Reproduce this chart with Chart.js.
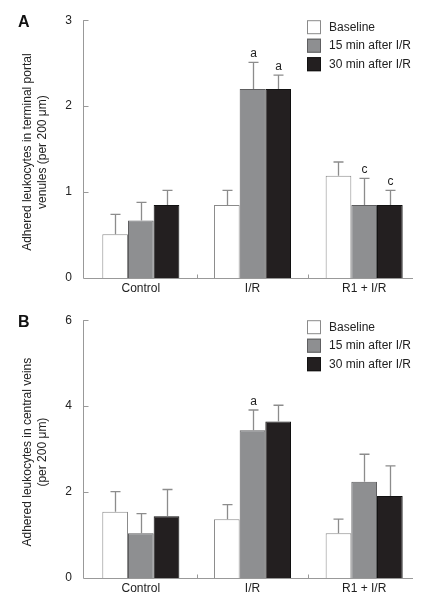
<!DOCTYPE html>
<html>
<head>
<meta charset="utf-8">
<script src="https://cdn.jsdelivr.net/npm/chart.js@4.4.0/dist/chart.umd.min.js"></script>
<style>
html,body{margin:0;padding:0;background:#fff;}
.panel{position:absolute;left:0;width:432px;height:300px;}
</style>
</head>
<body>
<div class="panel" style="top:0"><canvas id="cA" width="432" height="300"></canvas></div>
<div class="panel" style="top:300px"><canvas id="cB" width="432" height="300"></canvas></div>
<script>
// ---- data ----
const categories = ["Control", "I/R", "R1 + I/R"];
const seriesLabels = ["Baseline", "15 min after I/R", "30 min after I/R"];

// Panel A: terminal portal venules
const A_baseline = [0.51, 0.85, 1.19];
const A_15min    = [0.67, 2.20, 0.85];
const A_30min    = [0.85, 2.20, 0.85];
const A_err_baseline = [0.23, 0.17, 0.16];
const A_err_15min    = [0.21, 0.31, 0.31];
const A_err_30min    = [0.17, 0.16, 0.17];
const A_marks_baseline = ["", "", ""];
const A_marks_15min    = ["", "a", "c"];
const A_marks_30min    = ["", "a", "c"];
const A_ticks = [0, 1, 2, 3];
const A_title = ["Adhered leukocytes in terminal portal", "venules (per 200 \u03bcm)"];

// Panel B: central veins
const B_baseline = [1.54, 1.37, 1.04];
const B_15min    = [1.04, 3.44, 2.24];
const B_30min    = [1.44, 3.64, 1.91];
const B_err_baseline = [0.47, 0.34, 0.33];
const B_err_15min    = [0.46, 0.47, 0.64];
const B_err_30min    = [0.62, 0.38, 0.70];
const B_marks_baseline = ["", "", ""];
const B_marks_15min    = ["", "a", ""];
const B_marks_30min    = ["", "", ""];
const B_ticks = [0, 2, 4, 6];
const B_title = ["Adhered leukocytes in central veins", "(per 200 \u03bcm)"];

// ---- styles ----
const FONT = "'Liberation Sans', Arial, sans-serif";
const TEXT = "#222";
const AXIS = "#999";
const fills = ["#ffffff", "#8e8f91", "#231f20"];
const borders = ["#8a8a8a", "#5e5e60", "#111111"];

const decor = {
  id: "decor",
  afterDatasetsDraw(chart) {
    const ctx = chart.ctx, y = chart.scales.y, opts = chart.options.plugins.decor;
    ctx.save();
    chart.data.datasets.forEach((ds, di) => {
      const meta = chart.getDatasetMeta(di);
      meta.data.forEach((bar, i) => {
        const v = ds.data[i], e = ds.errors[i];
        const x = Math.round(bar.x) + 0.5;
        const yTop = y.getPixelForValue(v + e);
        const yBar = y.getPixelForValue(v);
        ctx.strokeStyle = "#8c8c8c";
        ctx.lineWidth = 1.3;
        ctx.beginPath();
        ctx.moveTo(x, yBar);
        ctx.lineTo(x, yTop);
        ctx.moveTo(x - 5, yTop);
        ctx.lineTo(x + 5, yTop);
        ctx.stroke();
        const m = ds.marks[i];
        if (m) {
          ctx.fillStyle = TEXT;
          ctx.font = "12px " + FONT;
          ctx.textAlign = "center";
          ctx.textBaseline = "alphabetic";
          ctx.fillText(m, x, yTop - 5);
        }
      });
    });
    ctx.restore();
  },
  afterDraw(chart) {
    const ctx = chart.ctx, ca = chart.chartArea, x = chart.scales.x, y = chart.scales.y;
    const opts = chart.options.plugins.decor;
    ctx.save();
    // axes
    const ax = ca.left - 1.5;
    const ay = Math.round(ca.bottom) + 0.5;
    ctx.strokeStyle = AXIS;
    ctx.lineWidth = 1;
    ctx.beginPath();
    ctx.moveTo(ax, ca.top);
    ctx.lineTo(ax, ay);
    ctx.lineTo(ca.right - 7, ay);
    y.ticks.forEach(t => {
      const py = Math.round(y.getPixelForValue(t.value)) + 0.5;
      if (t.value !== y.min) { ctx.moveTo(ax, py); ctx.lineTo(ax + 5, py); }
    });
    for (let i = 0; i < categories.length - 1; i++) {
      const px = Math.round((x.getPixelForTick(i) + x.getPixelForTick(i + 1)) / 2) + 0.5;
      ctx.moveTo(px, ay);
      ctx.lineTo(px, ay - 4);
    }
    ctx.stroke();
    // panel letter
    ctx.fillStyle = "#111";
    ctx.font = "bold 16px " + FONT;
    ctx.textAlign = "left";
    ctx.textBaseline = "alphabetic";
    ctx.fillText(opts.letter, 18, ca.top + 7);
    // y title
    ctx.fillStyle = TEXT;
    ctx.font = "12px " + FONT;
    ctx.textAlign = "center";
    ctx.textBaseline = "middle";
    const cy = (ca.top + ca.bottom) / 2 + 3;
    opts.title.forEach((line, li) => {
      ctx.save();
      ctx.translate(28 + li * 15, cy);
      ctx.rotate(-Math.PI / 2);
      ctx.fillText(line, 0, 0);
      ctx.restore();
    });
    // legend
    const lx = ca.right - 113;
    chart.data.datasets.forEach((ds, di) => {
      const by = ca.top + di * 18.5;
      ctx.fillStyle = ds.backgroundColor;
      ctx.fillRect(lx, by, 14, 14);
      ctx.strokeStyle = ds.borderColor;
      ctx.lineWidth = 1;
      ctx.strokeRect(lx + 0.5, by + 0.5, 13, 13);
      ctx.fillStyle = TEXT;
      ctx.textAlign = "left";
      ctx.textBaseline = "middle";
      ctx.fillText(ds.label, lx + 22, by + 7);
    });
    ctx.restore();
  }
};

function makeChart(id, vals, errs, marks, ticks, title, letter) {
  const datasets = vals.map((d, k) => ({
    label: seriesLabels[k],
    data: d,
    errors: errs[k],
    marks: marks[k],
    backgroundColor: fills[k],
    borderColor: borders[k],
    borderWidth: 1,
    categoryPercentage: 0.69,
    barPercentage: 1.0
  }));
  return new Chart(document.getElementById(id), {
    type: "bar",
    data: { labels: categories, datasets },
    plugins: [decor],
    options: {
      responsive: false,
      animation: false,
      layout: { padding: { left: 0, right: 12, top: 20, bottom: 0 } },
      plugins: {
        legend: { display: false },
        tooltip: { enabled: false },
        decor: { title, letter }
      },
      scales: {
        x: {
          grid: { display: false, drawTicks: false },
          border: { display: false },
          ticks: { color: TEXT, font: { family: FONT, size: 12 }, padding: 3 },
          afterFit(s) { s.height = 22; }
        },
        y: {
          min: ticks[0],
          max: ticks[ticks.length - 1],
          afterBuildTicks(s) { s.ticks = ticks.map(v => ({ value: v })); },
          grid: { display: false, drawTicks: false },
          border: { display: false },
          ticks: { color: TEXT, font: { family: FONT, size: 12 }, padding: 13 },
          afterFit(s) { s.width = 85; }
        }
      }
    }
  });
}

makeChart("cA", [A_baseline, A_15min, A_30min], [A_err_baseline, A_err_15min, A_err_30min],
  [A_marks_baseline, A_marks_15min, A_marks_30min], A_ticks, A_title, "A");
makeChart("cB", [B_baseline, B_15min, B_30min], [B_err_baseline, B_err_15min, B_err_30min],
  [B_marks_baseline, B_marks_15min, B_marks_30min], B_ticks, B_title, "B");
</script>
</body>
</html>
